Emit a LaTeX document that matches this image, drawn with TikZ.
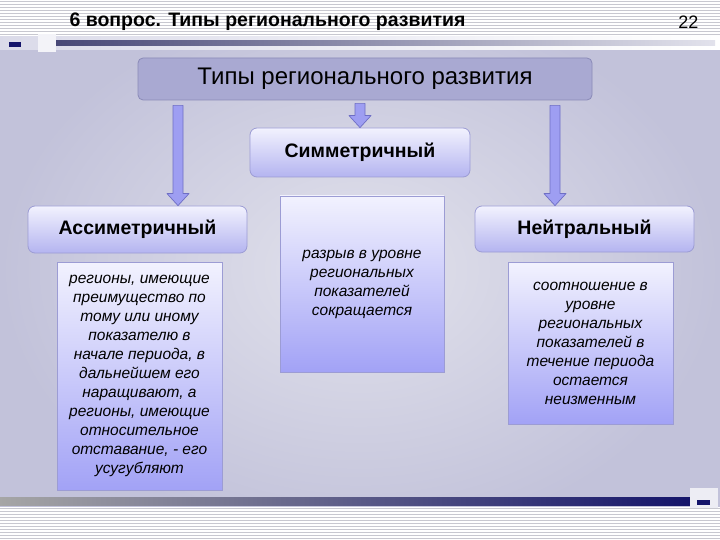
\documentclass[tikz,border=0pt]{standalone}
\usepackage{fontspec}
\setmainfont{Liberation Sans}
\usetikzlibrary{calc}
\definecolor{bgin}{HTML}{E2E2EC}
\definecolor{bgout}{HTML}{C2C2DA}
\definecolor{stripe}{HTML}{C8C8D0}
\definecolor{topfill}{HTML}{A9A9D2}
\definecolor{topdraw}{HTML}{8A8AB8}
\definecolor{boxtop}{HTML}{F2F2FE}
\definecolor{boxbot}{HTML}{B4B4F0}
\definecolor{boxdraw}{HTML}{9C9CD4}
\definecolor{tboxbot}{HTML}{A2A2F6}
\definecolor{arrfill}{HTML}{9E9EF2}
\definecolor{arrdraw}{HTML}{6E6EC4}
\definecolor{navy}{HTML}{14146A}
\tikzset{
  topbox/.style={draw=topdraw, fill=topfill, rounded corners=5pt, line width=0.8pt,
    minimum width=454pt, minimum height=42pt, font=\fontsize{24}{28}\selectfont},
  rbox/.style={draw=boxdraw, top color=boxtop, bottom color=boxbot, rounded corners=7pt,
    line width=0.8pt, font=\fontsize{19.5}{22}\selectfont\bfseries},
  tbox/.style={draw=boxdraw, top color=boxtop, bottom color=tboxbot, line width=0.6pt,
    font=\fontsize{15.5}{19}\selectfont\itshape, align=center},
  arr/.style={fill=arrfill, draw=arrdraw, line width=0.7pt, line join=round}
}
\newcommand\fatarrow[2]{\filldraw[arr] let \p1=(#1), \p2=(#2) in
  (\x1-5pt,\y1) -- (\x1+5pt,\y1) -- (\x1+5pt,\y2+12pt) -- (\x1+11pt,\y2+12pt) --
  (\x1,\y2) -- (\x1-11pt,\y2+12pt) -- (\x1-5pt,\y2+12pt) -- cycle;}
\begin{document}
\begin{tikzpicture}[x=1pt,y=-1pt]
\useasboundingbox (0,0) rectangle (720,540);
% background
\shade[inner color=bgin, outer color=bgout] (0,0) rectangle (720,540);
\fill[white] (0,0) rectangle (720,37);
\foreach \yy in {1,4,...,36} \fill[stripe] (0,\yy) rectangle (720,\yy+1.4);
\fill[white] (0,507) rectangle (720,540);
\foreach \yy in {508,511,...,539} \fill[stripe] (0,\yy) rectangle (720,\yy+1.4);
% header decoration
\shade[left color=white!40!bgout, right color=white] (0,37) rectangle (720,50);
\shade[left color=navy!55!gray, right color=bgin] (40,41) rectangle (715,46);
\fill[white!80!bgout] (38,34) rectangle (56,52);
\fill[navy] (9,42) rectangle (21,47);
% footer decoration
\shade[left color=gray!70, right color=navy] (0,497) rectangle (690,505);
\fill[white!70!bgout] (690,488) rectangle (718,508);
\fill[navy] (697,500) rectangle (710,505);
% header text
\node[anchor=west, font=\fontsize{19.5}{22}\selectfont\bfseries] (hdr) at (66,22) {6 вопрос. Типы регионального развития};
\node[anchor=east, font=\fontsize{18}{20}\selectfont] (num) at (702,22) {22};
% boxes
\node[topbox] (types) at (365,79) {Типы регионального развития};
\node[rbox, minimum width=220pt, minimum height=49pt] (sym) at (360,152.5) {Симметричный};
\node[rbox, minimum width=219pt, minimum height=47pt] (asym) at (137.5,229.5) {Ассиметричный};
\node[rbox, minimum width=219pt, minimum height=46pt] (neut) at (584.5,229) {Нейтральный};
\node[tbox, minimum width=165pt, minimum height=228pt] (asymt) at (139.5,376)
  {регионы, имеющие\\преимущество по\\тому или иному\\показателю в\\начале периода, в\\дальнейшем его\\наращивают, а\\регионы, имеющие\\относительное\\отставание, - его\\усугубляют};
\node[tbox, minimum width=164pt, minimum height=176pt] (symt) at (362,284)
  {разрыв в уровне\\региональных\\показателей\\сокращается};
\node[tbox, minimum width=165pt, minimum height=162pt] (neutt) at (590.5,343)
  {соотношение в\\уровне\\региональных\\показателей в\\течение периода\\остается\\неизменным};
% arrows
\fatarrow{$(types.south)+(-187,5)$}{asym.north}
\fatarrow{$(types.south)+(-5,3)$}{sym.north}
\fatarrow{$(types.south)+(190,5)$}{neut.north}
\end{tikzpicture}
\end{document}
